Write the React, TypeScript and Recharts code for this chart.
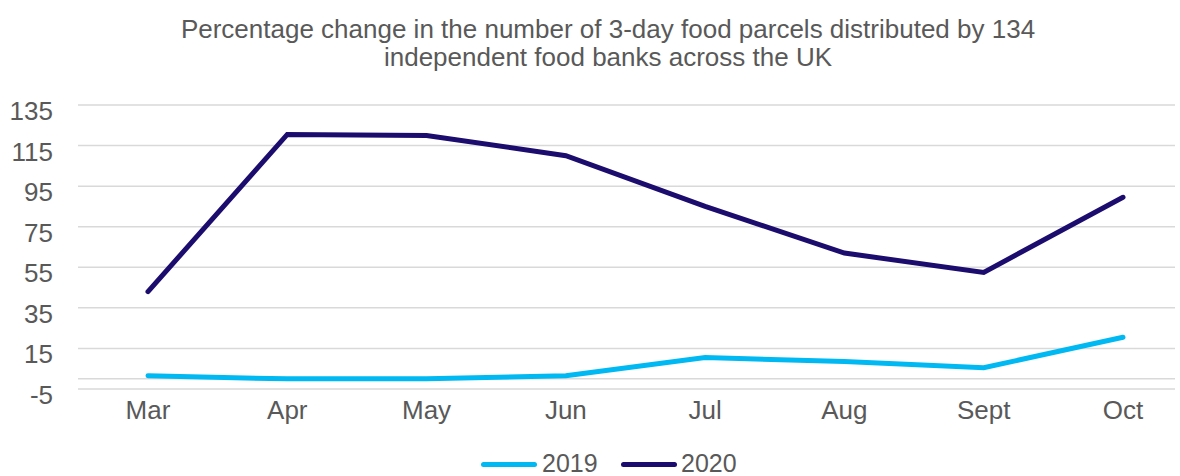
import { LineChart, Line, XAxis, YAxis, CartesianGrid, ReferenceLine } from 'recharts';

const months = ['Mar', 'Apr', 'May', 'Jun', 'Jul', 'Aug', 'Sept', 'Oct'];
const values2019 = [1.5, 0, 0, 1.5, 10.5, 8.5, 5.5, 20.5];
const values2020 = [43, 120.5, 120, 110, 85, 62, 52.5, 89.5];
const yTicks = [-5, 15, 35, 55, 75, 95, 115, 135];

const COLOR_2019 = '#00B9F2';
const COLOR_2020 = '#1B0C6E';
const TEXT = '#595959';
const FONT = '"Liberation Sans", Arial, sans-serif';

const data = months.map((m, i) => ({ month: m, y2019: values2019[i], y2020: values2020[i] }));

const YTick = ({ x, y, payload }: any) => (
  <text x={x} y={y} dy={15} textAnchor="end" fill={TEXT} fontSize={26} fontFamily={FONT}>
    {payload.value}
  </text>
);

export default function App() {
  return (
    <div style={{ position: 'absolute', left: 0, top: 0, width: 1180, height: 476, background: '#fff', fontFamily: FONT, overflow: 'hidden' }}>
      <div
        style={{
          position: 'absolute',
          left: 0,
          top: 15,
          width: 1216,
          textAlign: 'center',
          color: TEXT,
          fontSize: 26,
          lineHeight: '28px',
          whiteSpace: 'nowrap',
        }}
      >
        Percentage change in the number of 3-day food parcels distributed by 134
        <br />
        independent food banks across the UK
      </div>
      <LineChart width={1180} height={476} data={data} margin={{ top: 105, right: 5, bottom: 47, left: 8 }}>
        <CartesianGrid horizontal vertical={false} stroke="#d9d9d9" strokeWidth={1.5} />
        <ReferenceLine y={0} stroke="#d9d9d9" strokeWidth={1.5} />
        <XAxis
          dataKey="month"
          height={40}
          padding={{ left: 70, right: 52 }}
          axisLine={false}
          tickLine={false}
          tickSize={0}
          tickMargin={12}
          tick={{ fill: TEXT, fontSize: 26, fontFamily: FONT }}
        />
        <YAxis
          width={70}
          domain={[-5, 135]}
          ticks={yTicks}
          axisLine={false}
          tickLine={false}
          tickSize={0}
          tickMargin={25}
          tick={<YTick />}
        />
        <Line type="linear" dataKey="y2019" stroke={COLOR_2019} strokeWidth={5} dot={false} strokeLinecap="round" isAnimationActive={false} />
        <Line type="linear" dataKey="y2020" stroke={COLOR_2020} strokeWidth={5} dot={false} strokeLinecap="round" isAnimationActive={false} />
      </LineChart>
      <span style={{ position: 'absolute', left: 481, top: 461.5, width: 56, height: 5, borderRadius: 3, background: COLOR_2019 }} />
      <span style={{ position: 'absolute', left: 542, top: 451, color: TEXT, fontSize: 25, lineHeight: '25px' }}>2019</span>
      <span style={{ position: 'absolute', left: 621, top: 461.5, width: 56, height: 5, borderRadius: 3, background: COLOR_2020 }} />
      <span style={{ position: 'absolute', left: 681, top: 451, color: TEXT, fontSize: 25, lineHeight: '25px' }}>2020</span>
    </div>
  );
}
